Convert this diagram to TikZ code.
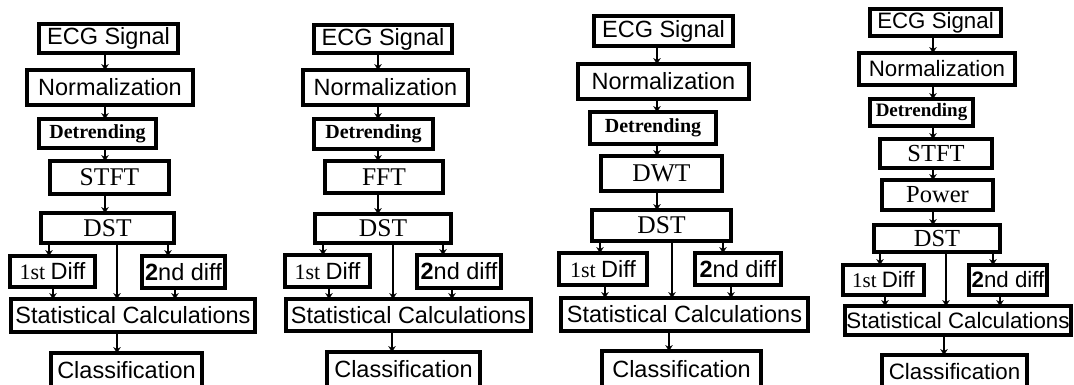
\documentclass[tikz,border=0pt]{standalone}
\usepackage{fontspec}
\setmainfont{Liberation Serif}
\newfontfamily\arialfont{Liberation Sans}
\usetikzlibrary{arrows.meta}

% block by its outer corners (x1,y1)-(x2,y2), y measured downwards
\newcommand\blockat[6]{%
  \node[blk, minimum width={#4-#2-4.2}, minimum height={#5-#3-4.2}]
    (#1) at ({(#2+#4)/2},{(#3+#5)/2}) {#6};}
\newcommand\sfbig{\arialfont\fontsize{23.5}{26}\selectfont}
\newcommand\sfsmall{\arialfont\fontsize{22.3}{25}\selectfont}
\newcommand\rmbig{\fontsize{25.5}{28}\selectfont}
\newcommand\rmsmall{\fontsize{24.5}{27}\selectfont}

\begin{document}
\begin{tikzpicture}[x=1pt,y=-1pt,
  blk/.style={draw, line width=4.2pt, fill=white, inner sep=0pt, outer sep=0pt},
  arr/.style={line width=2.5pt, -{Stealth[length=6pt,width=7.5pt]}}]
\useasboundingbox[fill=white] (0,0) rectangle (1074,385);

% ---------- STFT pipeline ----------
\blockat{ecgA}{37}{22}{180}{55}{\sfbig ECG Signal\hspace{10pt}}
\blockat{nrmA}{25}{68}{195}{107}{\sfbig Normalization}
\blockat{detA}{37}{117}{158}{150}{\bfseries\fontsize{20}{23}\selectfont Detrending\hspace{6pt}}
\blockat{trA}{48}{159}{171}{196}{\rmbig STFT}
\blockat{dstA}{39}{211}{176}{245}{\rmbig DST}
\blockat{fdA}{8}{254}{97}{289}{\fontsize{22}{25}\selectfont 1st \sfbig Diff}
\blockat{sdA}{140}{254}{227}{290}{\sfbig\textbf{2}nd diff}
\blockat{stA}{9}{297}{257}{334}{\sfbig Statistical Calculations}
\blockat{clA}{49}{351}{204}{392}{\raisebox{4pt}{\sfbig Classification}}
\coordinate (cA) at (105,0);
\draw[arr] (ecgA.south -| cA) -- (nrmA.north -| cA);
\draw[arr] (nrmA.south -| cA) -- (detA.north -| cA);
\draw[arr] (detA.south -| cA) -- (trA.north -| cA);
\draw[arr] (trA.south -| cA) -- (dstA.north -| cA);
\coordinate (a1) at (49,0);  \coordinate (a2) at (168,0); \coordinate (a3) at (117,0);
\coordinate (a4) at (53,0);  \coordinate (a5) at (175,0);
\draw[arr] (dstA.south -| a1) -- (fdA.north -| a1);
\draw[arr] (dstA.south -| a2) -- (sdA.north -| a2);
\draw[arr] (dstA.south -| a3) -- (stA.north -| a3);
\draw[arr] (fdA.south -| a4) -- (stA.north -| a4);
\draw[arr] (sdA.south -| a5) -- (stA.north -| a5);
\draw[arr] (stA.south -| a3) -- (clA.north -| a3);

% ---------- FFT pipeline ----------
\blockat{ecgB}{312}{23}{454}{55}{\sfbig ECG Signal\hspace{10pt}}
\blockat{nrmB}{301}{68}{470}{107}{\sfbig Normalization}
\blockat{detB}{312}{117}{435}{151}{\bfseries\fontsize{20}{23}\selectfont Detrending\hspace{6pt}}
\blockat{trB}{323}{159}{445}{195}{\rmbig FFT}
\blockat{dstB}{313}{212}{453}{245}{\rmbig DST}
\blockat{fdB}{283}{253}{372}{289}{\fontsize{22}{25}\selectfont 1st \sfbig Diff}
\blockat{sdB}{415}{253}{503}{290}{\sfbig\textbf{2}nd diff}
\blockat{stB}{284}{297}{533}{333}{\sfbig Statistical Calculations}
\blockat{clB}{325}{350}{482}{392}{\raisebox{4pt}{\sfbig Classification}}
\coordinate (cB) at (378,0);
\draw[arr] (ecgB.south -| cB) -- (nrmB.north -| cB);
\draw[arr] (nrmB.south -| cB) -- (detB.north -| cB);
\draw[arr] (detB.south -| cB) -- (trB.north -| cB);
\draw[arr] (trB.south -| cB) -- (dstB.north -| cB);
\coordinate (b1) at (323,0); \coordinate (b2) at (443,0); \coordinate (b3) at (393,0);
\coordinate (b4) at (329,0); \coordinate (b5) at (452,0); \coordinate (b6) at (392,0);
\draw[arr] (dstB.south -| b1) -- (fdB.north -| b1);
\draw[arr] (dstB.south -| b2) -- (sdB.north -| b2);
\draw[arr] (dstB.south -| b3) -- (stB.north -| b3);
\draw[arr] (fdB.south -| b4) -- (stB.north -| b4);
\draw[arr] (sdB.south -| b5) -- (stB.north -| b5);
\draw[arr] (stB.south -| b6) -- (clB.north -| b6);

% ---------- DWT pipeline ----------
\blockat{ecgC}{592}{14}{735}{48}{\sfbig ECG Signal\hspace{10pt}}
\blockat{nrmC}{576}{62}{751}{101}{\sfbig Normalization}
\blockat{detC}{588}{110}{718}{146}{\bfseries\fontsize{20}{23}\selectfont Detrending\hspace{10pt}}
\blockat{trC}{599}{154}{724}{193}{\rmbig DWT}
\blockat{dstC}{590}{208}{733}{243}{\rmbig DST}
\blockat{fdC}{557}{251}{649}{287}{\fontsize{22}{25}\selectfont 1st \sfbig Diff}
\blockat{sdC}{693}{251}{783}{287}{\sfbig\textbf{2}nd diff}
\blockat{stC}{559}{296}{810}{333}{\sfbig Statistical Calculations}
\blockat{clC}{600}{349}{763}{392}{\raisebox{4pt}{\sfbig Classification}}
\coordinate (cC) at (657,0);
\draw[arr] (ecgC.south -| cC) -- (nrmC.north -| cC);
\draw[arr] (nrmC.south -| cC) -- (detC.north -| cC);
\draw[arr] (detC.south -| cC) -- (trC.north -| cC);
\draw[arr] (trC.south -| cC) -- (dstC.north -| cC);
\coordinate (c1) at (600,0); \coordinate (c2) at (723,0); \coordinate (c3) at (672,0);
\coordinate (c4) at (605,0); \coordinate (c5) at (731,0); \coordinate (c6) at (669,0);
\draw[arr] (dstC.south -| c1) -- (fdC.north -| c1);
\draw[arr] (dstC.south -| c2) -- (sdC.north -| c2);
\draw[arr] (dstC.south -| c3) -- (stC.north -| c3);
\draw[arr] (fdC.south -| c4) -- (stC.north -| c4);
\draw[arr] (sdC.south -| c5) -- (stC.north -| c5);
\draw[arr] (stC.south -| c6) -- (clC.north -| c6);

% ---------- STFT + power pipeline ----------
\blockat{ecgD}{868}{7}{1003}{38}{\sfsmall ECG Signal\hspace{10pt}}
\blockat{nrmD}{857}{51}{1017}{87}{\sfsmall Normalization\hspace{6pt}}
\blockat{detD}{868}{97}{975}{128}{\bfseries\fontsize{19}{22}\selectfont Detrending}
\blockat{trD}{878}{137}{994}{170}{\rmsmall STFT}
\blockat{pwD}{880}{178}{995}{212}{\rmsmall Power}
\blockat{dstD}{872}{223}{1002}{254}{\rmsmall DST}
\blockat{fdD}{841}{263}{926}{297}{\fontsize{21}{24}\selectfont 1st \sfsmall Diff}
\blockat{sdD}{967}{263}{1049}{297}{\sfsmall\textbf{2}nd diff}
\blockat{stD}{843}{304}{1073}{337}{\sfsmall Statistical Calculations}
\blockat{clD}{880}{353}{1029}{392}{\raisebox{3pt}{\sfsmall Classification}}
\coordinate (cD) at (933,0);
\draw[arr] (ecgD.south -| cD) -- (nrmD.north -| cD);
\draw[arr] (nrmD.south -| cD) -- (detD.north -| cD);
\draw[arr] (detD.south -| cD) -- (trD.north -| cD);
\draw[arr] (trD.south -| cD) -- (pwD.north -| cD);
\draw[arr] (pwD.south -| cD) -- (dstD.north -| cD);
\coordinate (d1) at (880,0); \coordinate (d2) at (993,0); \coordinate (d3) at (946,0);
\coordinate (d4) at (885,0); \coordinate (d5) at (1000,0); \coordinate (d6) at (944,0);
\draw[arr] (dstD.south -| d1) -- (fdD.north -| d1);
\draw[arr] (dstD.south -| d2) -- (sdD.north -| d2);
\draw[arr] (dstD.south -| d3) -- (stD.north -| d3);
\draw[arr] (fdD.south -| d4) -- (stD.north -| d4);
\draw[arr] (sdD.south -| d5) -- (stD.north -| d5);
\draw[arr] (stD.south -| d6) -- (clD.north -| d6);
\end{tikzpicture}
\end{document}
